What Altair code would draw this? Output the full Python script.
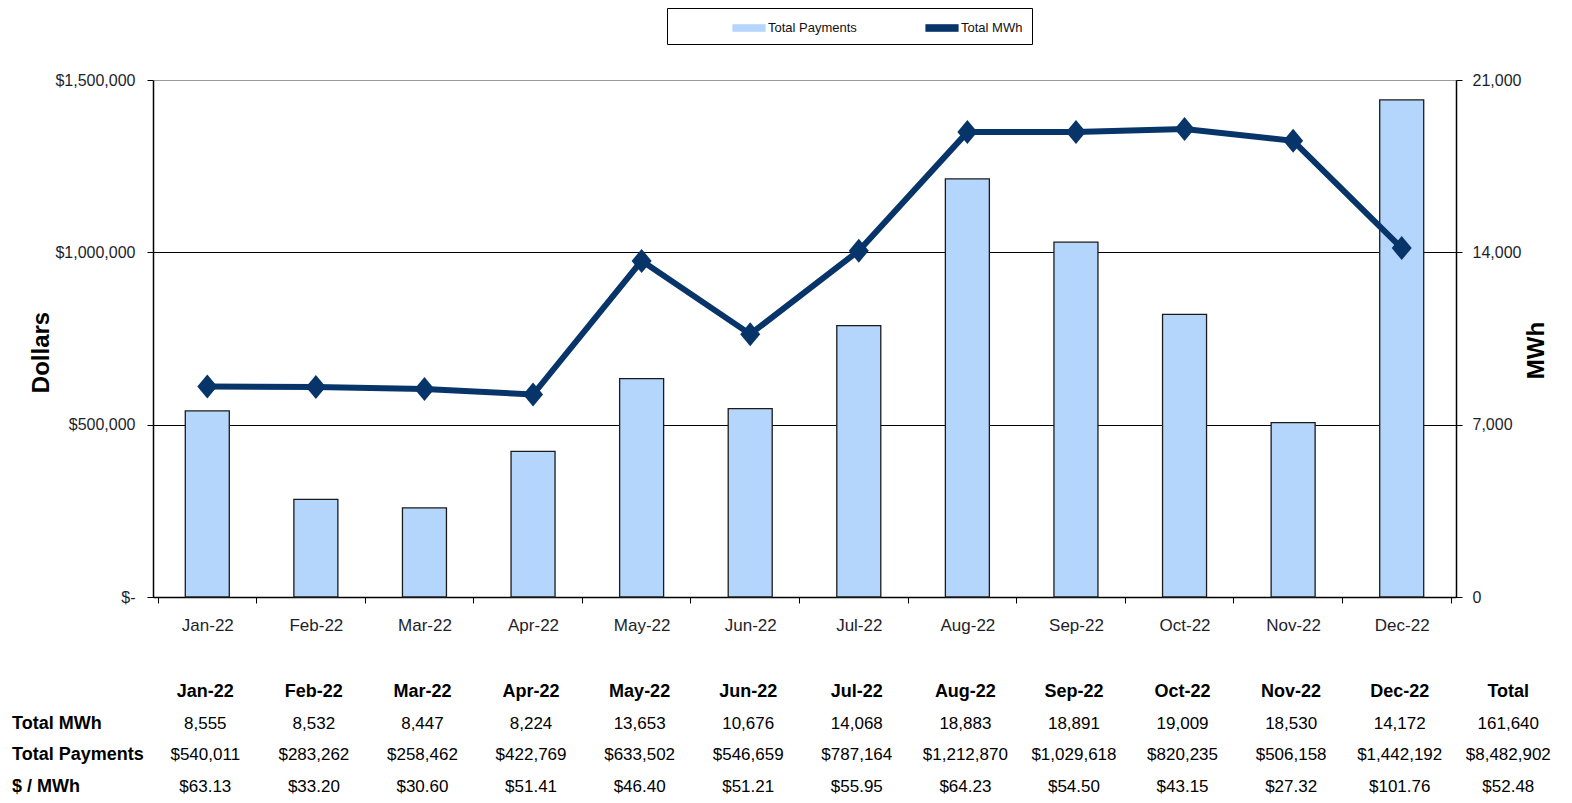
import altair as alt
import pandas as pd

months = ["Jan-22", "Feb-22", "Mar-22", "Apr-22", "May-22", "Jun-22",
          "Jul-22", "Aug-22", "Sep-22", "Oct-22", "Nov-22", "Dec-22"]
total_mwh = [8555, 8532, 8447, 8224, 13653, 10676, 14068, 18883, 18891, 19009, 18530, 14172]
total_payments = [540011, 283262, 258462, 422769, 633502, 546659, 787164,
                  1212870, 1029618, 820235, 506158, 1442192]
dollars_per_mwh = [63.13, 33.20, 30.60, 51.41, 46.40, 51.21, 55.95, 64.23, 54.50, 43.15, 27.32, 101.76]
sum_mwh = 161640
sum_payments = 8482902
sum_per_mwh = 52.48
row_labels = ["Total MWh", "Total Payments", "$ / MWh"]
series = ["Total Payments", "Total MWh"]

BAR_FILL = "#b4d6fd"
LINE_COL = "#07356a"
SANS = "Liberation Sans"

W, H = 1303, 517
band = W / 12.0

main_df = pd.DataFrame({
    "month": months,
    "mwh": total_mwh,
    "payments": total_payments,
    "bar_series": series[0],
    "line_series": series[1],
})

# table data
cols = months + ["Total"]
mwh_txt = [f"{v:,}" for v in total_mwh] + [f"{sum_mwh:,}"]
pay_txt = [f"${v:,}" for v in total_payments] + [f"${sum_payments:,}"]
per_txt = [f"${v:.2f}" for v in dollars_per_mwh] + [f"${sum_per_mwh:.2f}"]
rows_domain = ["header"] + row_labels

val_rows = []
for i, c in enumerate(cols):
    val_rows.append({"col": c, "row": row_labels[0], "text": mwh_txt[i]})
    val_rows.append({"col": c, "row": row_labels[1], "text": pay_txt[i]})
    val_rows.append({"col": c, "row": row_labels[2], "text": per_txt[i]})
val_df = pd.DataFrame(val_rows)
head_df = pd.DataFrame({"col": cols, "row": "header", "text": cols})
lab_df = pd.DataFrame({"row": row_labels, "text": row_labels})

color_scale = alt.Scale(domain=series, range=[BAR_FILL, LINE_COL])

RECT_PATH = "M-1.6,-0.32H1.6V0.32H-1.6Z"

legend = alt.Legend(
    title=None, orient="none", legendX=514, legendY=-72, direction="horizontal",
    strokeColor="#000", fillColor="white", padding=9,
    labelFont=SANS, labelFontSize=13, labelColor="#111",
    symbolType=RECT_PATH, symbolSize=400, labelOffset=8, columnPadding=12, symbolOffset=62,
    symbolOpacity=1, symbolStrokeWidth=1.2, symbolStrokeColor="#222222", gridAlign="all",
)

x_axis = alt.Axis(title=None, labelAngle=0, tickBand="extent", ticks=True, tickSize=6,
                  tickColor="#000", domainColor="#000", domainWidth=1.5, labelFont=SANS,
                  labelFontSize=17, labelColor="#1e1e2a", labelPadding=14, grid=False)

bars = alt.Chart(main_df).mark_bar(size=44, stroke="#1b1b1b", strokeWidth=1.3).encode(
    x=alt.X("month:N", sort=months, scale=alt.Scale(domain=months), axis=x_axis),
    y=alt.Y("payments:Q", scale=alt.Scale(domain=[0, 1500000], nice=False),
            axis=alt.Axis(title="Dollars", values=[0, 500000, 1000000, 1500000],
                          labelExpr="datum.value == 0 ? '$-' : '$' + format(datum.value, ',')",
                          grid=True,
                          gridColor=alt.condition("datum.value >= 1500000", alt.value("#9a9a9a"), alt.value("#000")),
                          gridWidth=1.2,
                          domainColor="#000", domainWidth=1.5, tickColor="#000", tickSize=6,
                          labelFont=SANS, labelFontSize=16, labelColor="#1e1e2a", labelPadding=12,
                          titleFont=SANS, titleFontSize=24, titleFontWeight="bold", titleColor="#000",
                          titleAngle=270, titleX=-100, titleY=272)),
    color=alt.Color("bar_series:N", scale=color_scale, legend=legend),
)

line = alt.Chart(main_df).mark_line(
    strokeWidth=6,
    point=alt.OverlayMarkDef(shape="M0,-1.2L1,0L0,1.2L-1,0Z", size=400, filled=True, opacity=1),
).encode(
    x=alt.X("month:N", sort=months),
    y=alt.Y("mwh:Q", scale=alt.Scale(domain=[0, 21000], nice=False),
            axis=alt.Axis(title="MWh", orient="right", values=[0, 7000, 14000, 21000], format=",.0f",
                          grid=False, domainColor="#000", domainWidth=1.5, tickColor="#000", tickSize=6,
                          labelFont=SANS, labelFontSize=16, labelColor="#1e1e2a", labelPadding=10,
                          titleFont=SANS, titleFontSize=24, titleFontWeight="bold", titleColor="#000",
                          titleAngle=270, titleX=92, titleY=270)),
    color=alt.Color("line_series:N", scale=color_scale, legend=legend),
)

main = alt.layer(bars, line).resolve_scale(y="independent")

tx = alt.X("col:N", scale=alt.Scale(type="point", domain=cols, range=[band / 2 - 2, band / 2 - 2 + 12 * band], padding=0), axis=None)
ty = alt.Y("row:N", scale=alt.Scale(type="point", domain=rows_domain, range=[612, 707], padding=0), axis=None)

head = alt.Chart(head_df).mark_text(font=SANS, fontSize=18, fontWeight="bold", color="#000").encode(
    x=tx, y=ty, text="text:N")
vals = alt.Chart(val_df).mark_text(font=SANS, fontSize=17, color="#000").encode(
    x=tx, y=ty, text="text:N")
labs = alt.Chart(lab_df).mark_text(font=SANS, fontSize=18, fontWeight="bold", color="#000", align="left").encode(
    x=alt.value(-141), y=ty, text="text:N")

table = alt.layer(head, vals, labs)

chart = alt.layer(main, table).resolve_scale(x="independent", y="independent").properties(
    width=W, height=H,
    autosize=alt.AutoSizeParams(type="none"),
    padding={"left": 145, "top": 72, "right": 108, "bottom": 204},
).configure_view(stroke=None).configure(background="white")

chart.save("out.html", embed_options={"renderer": "svg", "actions": False})
